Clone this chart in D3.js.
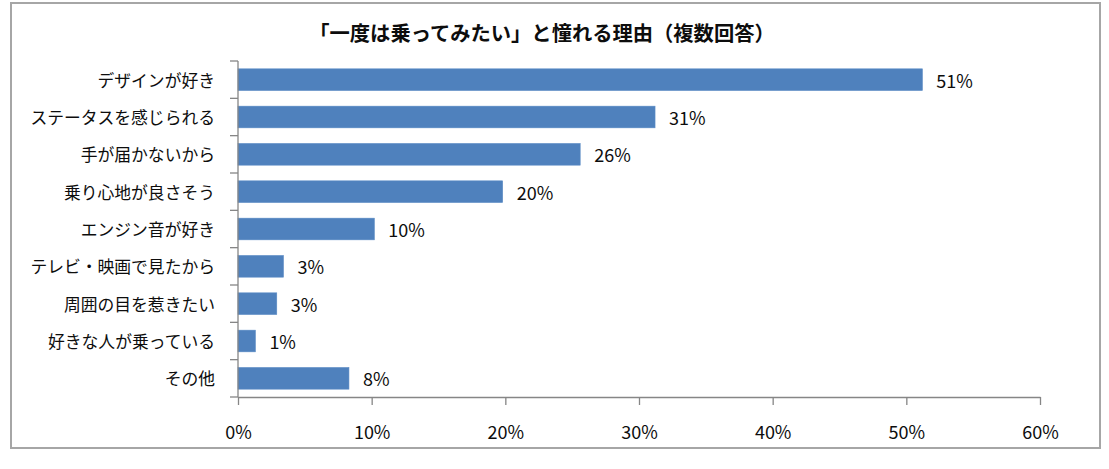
<!DOCTYPE html>
<html><head><meta charset="utf-8">
<script src="https://cdn.jsdelivr.net/npm/d3@7"></script>
<style>
html,body{margin:0;padding:0;background:#fff;}
svg{display:block;}
text{font-family:"Noto Sans CJK JP","Noto Sans",sans-serif;fill:#0d0d0d;}
</style></head>
<body>
<svg id="chart" width="1109" height="469"></svg>
<script>
const title = "「一度は乗ってみたい」と憧れる理由（複数回答）";
const categories = ["デザインが好き","ステータスを感じられる","手が届かないから","乗り心地が良さそう","エンジン音が好き","テレビ・映画で見たから","周囲の目を惹きたい","好きな人が乗っている","その他"];
const values = [51.2, 31.2, 25.6, 19.8, 10.2, 3.4, 2.9, 1.3, 8.3];
const valueLabels = ["51%","31%","26%","20%","10%","3%","3%","1%","8%"];
const xTicks = [0,10,20,30,40,50,60];
const xTickLabels = ["0%","10%","20%","30%","40%","50%","60%"];

const svg = d3.select("#chart");
const plot = {left:238, right:1040, top:61, bottom:397};

// outer frame
svg.append("rect").attr("x",11).attr("y",3).attr("width",1089).attr("height",445)
  .attr("fill","#fff").attr("stroke","#a6a6a6").attr("stroke-width",2);

// title
svg.append("text").attr("x",542).attr("y",32).attr("text-anchor","middle")
  .attr("dominant-baseline","central").attr("font-size",20.3).attr("font-weight","bold")
  .text(title);

const x = d3.scaleLinear().domain([0,60]).range([plot.left, plot.right]);
const y = d3.scaleBand().domain(categories).range([plot.top, plot.bottom])
  .paddingInner(0.42).paddingOuter(0.21);

// bars
svg.append("g").selectAll("rect").data(values).join("rect")
  .attr("x", x(0)).attr("y",(d,i)=>y(categories[i]))
  .attr("width", d=>x(d)-x(0)).attr("height", y.bandwidth())
  .attr("fill","#4f81bd").attr("stroke","#5a8ac4").attr("stroke-width",0.6);

// value labels
svg.append("g").selectAll("text").data(values).join("text")
  .attr("x", d=>x(d)+14).attr("y",(d,i)=>y(categories[i])+y.bandwidth()/2)
  .attr("dominant-baseline","central").attr("font-size",18)
  .text((d,i)=>valueLabels[i]);

// x axis
const xAxis = d3.axisBottom(x).tickValues(xTicks).tickFormat((d,i)=>xTickLabels[i]).tickSize(8).tickSizeOuter(0);
const gx = svg.append("g").attr("transform",`translate(0,${plot.bottom})`).call(xAxis);
gx.select(".domain").attr("stroke","#868686").attr("stroke-width",1.3);
gx.selectAll(".tick line").attr("stroke","#868686").attr("stroke-width",1.3);
gx.selectAll(".tick text").attr("font-size",18).attr("dy",null).attr("y",34)
  .attr("dominant-baseline","central").attr("font-family",'"Noto Sans CJK JP","Noto Sans",sans-serif').attr("fill","#0d0d0d");

// y axis
const gy = svg.append("g");
gy.append("line").attr("x1",plot.left).attr("x2",plot.left).attr("y1",plot.top).attr("y2",plot.bottom)
  .attr("stroke","#868686").attr("stroke-width",1.3);
const step = y.step();
gy.selectAll("line.tk").data(d3.range(categories.length+1)).join("line").attr("class","tk")
  .attr("x1",plot.left-8).attr("x2",plot.left)
  .attr("y1",i=>plot.top+i*step).attr("y2",i=>plot.top+i*step)
  .attr("stroke","#868686").attr("stroke-width",1.3);
gy.selectAll("text").data(categories).join("text")
  .attr("x", plot.left-23).attr("y", d=>y(d)+y.bandwidth()/2)
  .attr("text-anchor","end").attr("dominant-baseline","central").attr("font-size",16.8)
  .text(d=>d);
</script>
</body></html>
